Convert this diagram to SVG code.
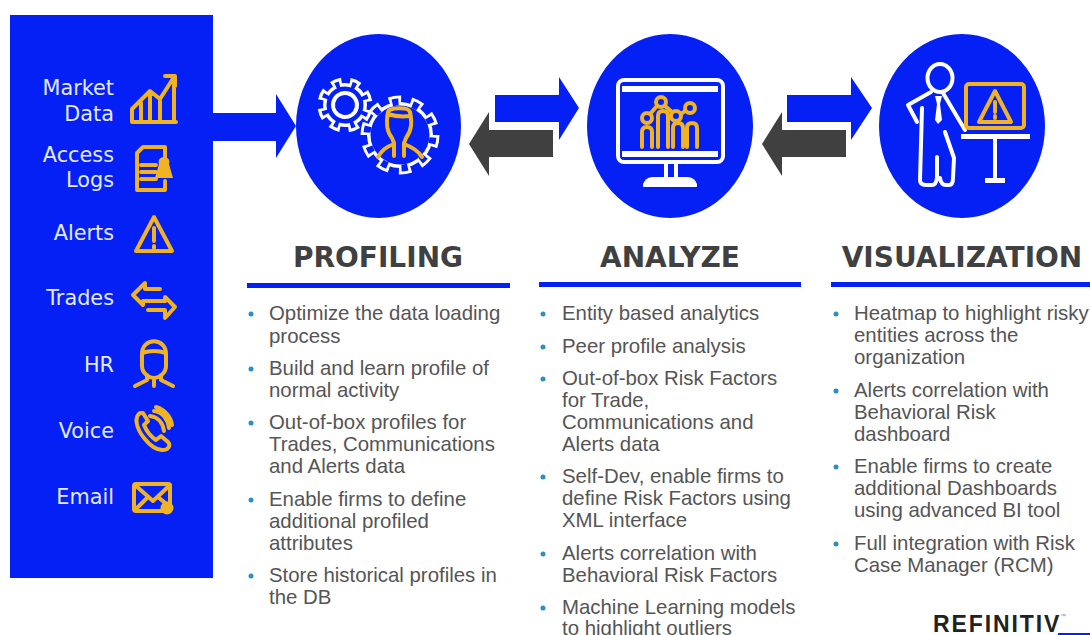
<svg xmlns="http://www.w3.org/2000/svg" width="1090" height="635" viewBox="0 0 1090 635">
<style>
.lbl{font-family:"DejaVu Sans",Verdana,sans-serif;font-size:20.800px;fill:#e4e9ff;text-anchor:end}
.ttl{font-family:"DejaVu Sans",sans-serif;font-weight:bold;font-size:28px;fill:#404040;text-anchor:middle}
.b{font-family:"Liberation Sans",Arial,sans-serif;font-size:20.4px;fill:#555}
.dot{fill:#2b8fc4}
.g{fill:none;stroke:#f0b323;stroke-width:4;stroke-linejoin:round;stroke-linecap:round}
.w{fill:none;stroke:#fff;stroke-width:4;stroke-linejoin:round;stroke-linecap:round}
.blue{fill:#0520f5}
.dark{fill:#404040}
.rule{fill:#0520f5}
</style>
<rect width="1090" height="635" fill="#fff"/>

<g id="sources">
<rect class="blue" x="10" y="15" width="203" height="563"/>
<g id="src-market"><text class="lbl" x="114" y="95">Market</text><text class="lbl" x="114" y="121">Data</text>
<path class="g" d="M132 122H176M132 122V109L150 91L160 99L174 77M141 122V103M150 122V93M160 122V101M174 122V77M165 76H175V86"/></g>
<g id="src-logs"><text class="lbl" x="114" y="162">Access</text><text class="lbl" x="114" y="187">Logs</text>
<path class="g" d="M143 147H165V158M143 147L137 153V190H165V181M141 165H156M141 172H156M141 179H156"/><path d="M164 157a5 5 0 0 1 5 7l4 14h-18l4-14a5 5 0 0 1 5-7z" fill="#f0b323"/></g>
<g id="src-alerts"><text class="lbl" x="114" y="240">Alerts</text>
<path class="g" d="M154 217L172 251H136Z"/><path class="g" d="M154 228V241M154 246V248" stroke-width="4.500"/></g>
<g id="src-trades"><text class="lbl" x="114" y="305">Trades</text>
<path class="g" d="M160 289H145V283L133 295L143 305V301H165"/><path class="g" d="M148 310H165V318L175 307L165 297V301"/></g>
<g id="src-hr"><text class="lbl" x="114" y="372">HR</text>
<path class="g" d="M142 354C142 337 166 337 166 354V366C166 374 158 378 154 378C150 378 142 374 142 366ZM142 353Q154 349 166 353M147 375V380L135 386M161 375V380L173 386M154 380V386"/></g>
<g id="src-voice"><text class="lbl" x="114" y="438">Voice</text>
<path class="g" d="M140 413C134 417 136 428 144 438C152 448 160 452 167 449C170 447 170 444 168 442L161 436L156 440C150 436 146 430 144 425L148 421L143 413Z"/><path class="g" d="M150 416C158 417 163 423 164 431M154 411C163 412 168 420 169 428M156 407C166 410 171 418 172 425" stroke-width="2.500"/></g>
<g id="src-email"><text class="lbl" x="114" y="504">Email</text>
<rect class="g" x="134" y="484" width="36" height="27" rx="2"/><path class="g" d="M135 485L153 501L170 485M135 510L148 497M158 497L170 507"/><circle cx="167" cy="508" r="6.500" fill="#f0b323"/></g>
</g>

<g id="connectors">
<path class="blue" d="M213 113H276V94L296 126L276 158V141H213Z"/>
<path class="blue" d="M495 95H559V77L579 108L559 140V122H495Z"/>
<path class="dark" d="M553 130H489V112L469 144L489 176V157H553Z"/>
<path class="blue" d="M787 95H851V77L872 108L851 140V122H787Z"/>
<path class="dark" d="M846 130H782V112L762 144L782 176V157H846Z"/>
</g>

<g id="profiling">
<ellipse class="blue" cx="378.500" cy="126" rx="82.500" ry="92"/>
<g transform="rotate(12 345 105)">
<circle cx="345" cy="105" r="22" fill="#fff"/><circle cx="345" cy="105" r="24" fill="none" stroke="#fff" stroke-width="7" pathLength="16" stroke-dasharray="1.100 .9"/>
<circle cx="345" cy="105" r="18.500" fill="#0520f5"/><circle cx="345" cy="105" r="21" fill="none" stroke="#0520f5" stroke-width="6.500" pathLength="16" stroke-dasharray=".5 1.500" stroke-dashoffset="-.3"/>
<circle cx="345" cy="105" r="12" fill="none" stroke="#fff" stroke-width="4"/>
</g>
<circle cx="400" cy="135" r="33" fill="#fff"/><circle cx="400" cy="135" r="36" fill="none" stroke="#fff" stroke-width="7" pathLength="20" stroke-dasharray="1.100 .9"/>
<circle cx="400" cy="135" r="29.500" fill="#0520f5"/><circle cx="400" cy="135" r="33" fill="none" stroke="#0520f5" stroke-width="7" pathLength="20" stroke-dasharray=".6 1.400" stroke-dashoffset="-.25"/>
<path class="g" d="M388 112C388 108 408 106 410 112C412 122 412 130 406 138L404 143V156M388 112C386 122 387 132 392 138L394 143V156M388 114C394 116 402 117 410 116M394 144C386 147 382 150 378 157M404 144C412 147 418 150 422 157" stroke-width="4.500"/>
</g>

<g id="analyze">
<ellipse class="blue" cx="670" cy="126" rx="83" ry="92"/>
<rect class="w" x="618" y="80" width="105" height="82" rx="6"/>
<rect x="622" y="86" width="96" height="6" fill="#fff"/><rect x="622" y="151" width="96" height="6" fill="#fff"/>
<path class="w" d="M666 164V178M676 164V178" stroke-width="3"/>
<path d="M643 187V184Q645 178 652 177H688Q695 178 697 184V187Z" fill="#fff"/>
<path class="g" d="M642 147V132Q642 127 647 127Q652 127 652 132V147M658 147V116Q658 111 663 111Q668 111 668 116V147M673 147V128Q673 123 678 123Q683 123 683 128V147M687 147V128Q687 123 692 123Q697 123 697 128V147"/>
<g class="g" stroke-width="3"><circle cx="647" cy="118" r="5"/><circle cx="661" cy="102" r="5"/><circle cx="676" cy="116" r="5"/><circle cx="690" cy="108" r="5"/><path d="M650 114L657 106M665 106L672 112M681 114L685 111"/></g>
</g>

<g id="visualization">
<ellipse class="blue" cx="962" cy="126" rx="83" ry="92"/>
<ellipse class="w" cx="940" cy="78" rx="12.500" ry="14" stroke-width="5"/>
<path class="w" d="M931 92L908 105L917 122M922 108L920 180Q920 185 926 185H932Q936 185 937 178V157M940 178Q941 185 946 185H949Q953 185 953 178L954 158L945 132M943 93L965 130" stroke-width="4.500"/>
<path d="M935 96H942L940 104L942 120L938 124L935 120L937 104Z" fill="#fff"/>
<rect class="g" x="966" y="84" width="58" height="44" rx="3"/>
<path class="g" d="M995 91L1011 122H979Z"/><path class="g" d="M995 102V112M995 116V118" stroke-width="3.500"/>
<rect x="961" y="134" width="69" height="5" fill="#fff"/><rect x="993" y="139" width="4" height="40" fill="#fff"/><rect x="985" y="178" width="20" height="5" fill="#fff"/>
</g>

<g id="col-profiling">
<text class="ttl" x="378" y="267">PROFILING</text><rect class="rule" x="247" y="283" width="263" height="5"/>
<circle class="dot" cx="251" cy="314" r="2.500"/><text class="b" x="269" y="320">Optimize the data loading</text><text class="b" x="269" y="343">process</text>
<circle class="dot" cx="251" cy="369" r="2.500"/><text class="b" x="269" y="375">Build and learn profile of</text><text class="b" x="269" y="397">normal activity</text>
<circle class="dot" cx="251" cy="423" r="2.500"/><text class="b" x="269" y="429">Out-of-box profiles for</text><text class="b" x="269" y="451">Trades, Communications</text><text class="b" x="269" y="473">and Alerts data</text>
<circle class="dot" cx="251" cy="500" r="2.500"/><text class="b" x="269" y="506">Enable firms to define</text><text class="b" x="269" y="528">additional profiled</text><text class="b" x="269" y="550">attributes</text>
<circle class="dot" cx="251" cy="576" r="2.500"/><text class="b" x="269" y="582">Store historical profiles in</text><text class="b" x="269" y="604">the DB</text>
</g>

<g id="col-analyze">
<text class="ttl" x="670" y="267">ANALYZE</text><rect class="rule" x="539" y="282" width="262" height="5"/>
<circle class="dot" cx="543" cy="314" r="2.500"/><text class="b" x="562" y="320">Entity based analytics</text>
<circle class="dot" cx="543" cy="347" r="2.500"/><text class="b" x="562" y="353">Peer profile analysis</text>
<circle class="dot" cx="543" cy="379" r="2.500"/><text class="b" x="562" y="385">Out-of-box Risk Factors</text><text class="b" x="562" y="407">for Trade,</text><text class="b" x="562" y="429">Communications and</text><text class="b" x="562" y="451">Alerts data</text>
<circle class="dot" cx="543" cy="477" r="2.500"/><text class="b" x="562" y="483">Self-Dev, enable firms to</text><text class="b" x="562" y="505">define Risk Factors using</text><text class="b" x="562" y="527">XML interface</text>
<circle class="dot" cx="543" cy="554" r="2.500"/><text class="b" x="562" y="560">Alerts correlation with</text><text class="b" x="562" y="582">Behavioral Risk Factors</text>
<circle class="dot" cx="543" cy="608" r="2.500"/><text class="b" x="562" y="614">Machine Learning models</text><text class="b" x="562" y="635">to highlight outliers</text>
</g>

<g id="col-visualization">
<text class="ttl" x="962" y="267">VISUALIZATION</text><rect class="rule" x="831" y="282" width="259" height="5"/>
<circle class="dot" cx="836" cy="314" r="2.500"/><text class="b" x="854" y="320">Heatmap to highlight risky</text><text class="b" x="854" y="342">entities across the</text><text class="b" x="854" y="364">organization</text>
<circle class="dot" cx="836" cy="391" r="2.500"/><text class="b" x="854" y="397">Alerts correlation with</text><text class="b" x="854" y="419">Behavioral Risk</text><text class="b" x="854" y="441">dashboard</text>
<circle class="dot" cx="836" cy="467" r="2.500"/><text class="b" x="854" y="473">Enable firms to create</text><text class="b" x="854" y="495">additional Dashboards</text><text class="b" x="854" y="517">using advanced BI tool</text>
<circle class="dot" cx="836" cy="544" r="2.500"/><text class="b" x="854" y="550">Full integration with Risk</text><text class="b" x="854" y="572">Case Manager (RCM)</text>
</g>

<g id="logo">
<text x="933" y="632" font-family="'Liberation Sans',Arial,sans-serif" font-weight="bold" font-size="23" letter-spacing="1.900" fill="#222">REFINITIV</text>
<text x="1060" y="618" font-family="'Liberation Sans',Arial,sans-serif" font-size="6" fill="#888">™</text>
<rect class="rule" x="1058" y="633" width="32" height="2"/>
</g>
</svg>
